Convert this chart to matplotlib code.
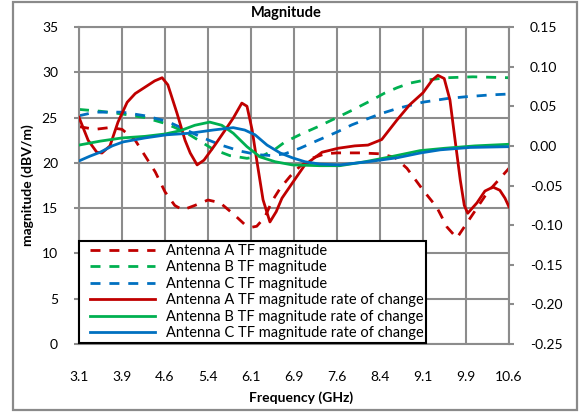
import matplotlib
matplotlib.use('Agg')
import matplotlib.pyplot as plt
from matplotlib.patches import Rectangle
from matplotlib.legend_handler import HandlerLine2D

plt.rcParams['font.family'] = ['Lato', 'DejaVu Sans']
plt.rcParams['axes.unicode_minus'] = False

# ---------------- data ----------------
x_ticks = [3.1, 3.85, 4.6, 5.35, 6.1, 6.85, 7.6, 8.35, 9.1, 9.85, 10.6]
x_tick_labels = ['3.1', '3.9', '4.6', '5.4', '6.1', '6.9', '7.6', '8.4', '9.1', '9.9', '10.6']
left_ticks = [0, 5, 10, 15, 20, 25, 30, 35]
right_ticks = [-0.25, -0.20, -0.15, -0.10, -0.05, 0.00, 0.05, 0.10, 0.15]
right_tick_labels = ['-0.25', '-0.20', '-0.15', '-0.10', '-0.05', '0.00', '0.05', '0.10', '0.15']

series_labels = ['Antenna A TF magnitude', 'Antenna B TF magnitude', 'Antenna C TF magnitude',
                 'Antenna A TF magnitude rate of change', 'Antenna B TF magnitude rate of change',
                 'Antenna C TF magnitude rate of change']

# TF magnitude (dBV/m), left axis
freq_a_mag = [3.10, 3.38, 3.64, 3.85, 4.08, 4.25, 4.43, 4.60, 4.77, 4.91, 5.12, 5.35, 5.56, 5.82,
              5.99, 6.12, 6.20, 6.34, 6.47, 6.61, 6.78, 6.95, 7.16, 7.39, 7.60, 8.00, 8.35, 8.61,
              8.82, 9.10, 9.34, 9.52, 9.69, 9.87, 10.22, 10.60]
a_mag = [24.0, 23.7, 23.9, 23.7, 22.5, 20.8, 19.0, 16.8, 15.3, 14.8, 15.3, 15.9, 15.6, 14.2,
         13.2, 12.9, 13.0, 14.0, 15.8, 17.2, 18.5, 19.6, 20.5, 21.0, 21.1, 21.1, 21.0, 20.6,
         19.4, 17.0, 15.1, 12.9, 11.7, 13.4, 16.7, 19.4]

freq_b_mag = [3.10, 3.47, 3.85, 4.25, 4.63, 4.95, 5.21, 5.44, 5.73, 6.03, 6.31, 6.52, 6.69, 6.95,
              7.27, 7.60, 7.86, 8.17, 8.43, 8.65, 8.87, 9.10, 9.52, 9.97, 10.60]
b_mag = [25.9, 25.7, 25.4, 25.0, 24.3, 23.4, 22.4, 21.5, 20.8, 20.5, 20.8, 21.5, 22.3, 23.1,
         24.0, 25.0, 25.8, 26.8, 27.7, 28.3, 28.8, 29.1, 29.4, 29.5, 29.4]

freq_c_mag = [3.10, 3.38, 3.85, 4.25, 4.63, 4.95, 5.21, 5.56, 5.91, 6.22, 6.47, 6.69, 6.95, 7.27,
              7.60, 7.86, 8.35, 8.65, 9.10, 9.52, 9.85, 10.27, 10.60]
c_mag = [25.2, 25.6, 25.6, 25.2, 24.6, 23.7, 22.9, 22.0, 21.3, 20.9, 20.8, 21.0, 21.6, 22.5,
         23.4, 24.2, 25.4, 26.0, 26.7, 27.1, 27.3, 27.5, 27.6]

# TF magnitude rate of change, right axis
freq_a_rate = [3.10, 3.26, 3.41, 3.50, 3.64, 3.78, 3.94, 4.08, 4.25, 4.42, 4.55, 4.65, 4.81, 4.95,
               5.04, 5.16, 5.28, 5.47, 5.65, 5.79, 5.94, 6.03, 6.12, 6.20, 6.31, 6.43, 6.54, 6.64,
               6.82, 7.04, 7.34, 7.62, 7.91, 8.14, 8.38, 8.65, 8.87, 9.10, 9.26, 9.36, 9.47, 9.57,
               9.66, 9.75, 9.82, 9.88, 10.04, 10.18, 10.32, 10.44, 10.53, 10.60]
a_rate = [0.036, 0.007, -0.008, -0.009, 0.000, 0.030, 0.055, 0.066, 0.074, 0.082, 0.086, 0.077,
          0.041, 0.007, -0.009, -0.024, -0.018, 0.001, 0.020, 0.035, 0.054, 0.050, 0.020, -0.018,
          -0.068, -0.096, -0.083, -0.066, -0.047, -0.024, -0.008, -0.003, 0.000, 0.001, 0.008,
          0.033, 0.052, 0.067, 0.083, 0.089, 0.085, 0.058, 0.007, -0.043, -0.075, -0.085, -0.072,
          -0.057, -0.052, -0.056, -0.066, -0.077]

freq_b_rate = [3.10, 3.47, 3.85, 4.25, 4.60, 4.86, 5.12, 5.38, 5.59, 5.79, 6.03, 6.26, 6.52, 6.82,
               7.30, 7.65, 8.09, 8.52, 9.05, 9.48, 10.01, 10.60]
b_rate = [0.001, 0.006, 0.010, 0.012, 0.015, 0.019, 0.026, 0.030, 0.026, 0.016, -0.001, -0.014,
          -0.020, -0.024, -0.025, -0.025, -0.020, -0.014, -0.006, -0.003, 0.000, 0.002]

freq_c_rate = [3.10, 3.29, 3.47, 3.68, 3.87, 4.25, 4.63, 5.04, 5.44, 5.79, 5.99, 6.17, 6.38, 6.61,
               6.82, 7.04, 7.30, 7.65, 8.14, 8.65, 9.05, 9.40, 9.92, 10.60]
c_rate = [-0.019, -0.013, -0.008, 0.000, 0.005, 0.010, 0.014, 0.016, 0.020, 0.023, 0.020, 0.014,
          0.001, -0.009, -0.015, -0.020, -0.023, -0.024, -0.020, -0.015, -0.009, -0.005, -0.002,
          -0.001]

# ---------------- style ----------------
RED, GREEN, BLUE = '#C00000', '#00B050', '#0070C0'
GRID = '#8C8C8C'
LW = 2.0
DASH = (0, (3.6, 3.2))

W, H = 584, 415
fig = plt.figure(figsize=(W / 100, H / 100), dpi=100)
fig.patches.append(Rectangle((13 / W, 5 / H), 564 / W, 408 / H, transform=fig.transFigure,
                             fill=False, edgecolor='#8A8A8A', linewidth=1.6))

ax = fig.add_axes([79 / W, 1 - 344 / H, 430 / W, 317 / H])
ax2 = ax.twinx()

l1, = ax.plot(freq_a_mag, a_mag, color=RED, lw=LW, linestyle=DASH)
l2, = ax.plot(freq_b_mag, b_mag, color=GREEN, lw=LW, linestyle=DASH)
l3, = ax.plot(freq_c_mag, c_mag, color=BLUE, lw=LW, linestyle=DASH)
l4, = ax2.plot(freq_a_rate, a_rate, color=RED, lw=LW)
l5, = ax2.plot(freq_b_rate, b_rate, color=GREEN, lw=LW)
l6, = ax2.plot(freq_c_rate, c_rate, color=BLUE, lw=LW)

ax.set_xlim(3.1, 10.6)
ax.set_ylim(0, 35)
ax2.set_ylim(-0.25, 0.15)

ax.set_xticks(x_ticks)
ax.set_xticklabels(x_tick_labels)
ax.set_yticks(left_ticks)
ax.set_yticklabels([str(t) for t in left_ticks])
ax2.set_yticks(right_ticks)
ax2.set_yticklabels(right_tick_labels)

ax.grid(True, color=GRID, linewidth=1.5)
ax.set_axisbelow(True)
for s in ax.spines.values():
    s.set_color(GRID)
    s.set_linewidth(1.5)
for s in ax2.spines.values():
    s.set_visible(False)

ax.tick_params(axis='x', length=0, pad=19.5, labelsize=10, colors='black')
ax.tick_params(axis='y', length=3.6, width=1.5, color=GRID, pad=11.5, labelsize=10, labelcolor='black')
ax2.tick_params(axis='y', length=3.6, width=1.5, color=GRID, pad=11.5, labelsize=10, labelcolor='black')

fig.text(286.5 / W, 1 - 12.5 / H, 'Magnitude', ha='center', va='center', fontsize=10.5, fontweight='bold')
fig.text(301.5 / W, 1 - 398 / H, 'Frequency (GHz)', ha='center', va='center', fontsize=10, fontweight='bold')
fig.text(28 / W, 1 - 185.5 / H, 'magnitude (dBV/m)', ha='center', va='center', rotation=90,
         fontsize=10, fontweight='bold')

hm = {h: HandlerLine2D(xpad=0.55) for h in (l1, l2, l3, l4, l5, l6)}
leg = ax2.legend([l1, l2, l3, l4, l5, l6], series_labels, loc='lower left', bbox_to_anchor=(0, 0.003),
                 borderaxespad=0, fontsize=10.5, frameon=True, fancybox=False, framealpha=1,
                 edgecolor='black', handlelength=5.0, handletextpad=0.75, labelspacing=0.17,
                 borderpad=0.2, handler_map=hm)
leg.get_frame().set_linewidth(1.5)

fig.savefig('out.png', dpi=100)
